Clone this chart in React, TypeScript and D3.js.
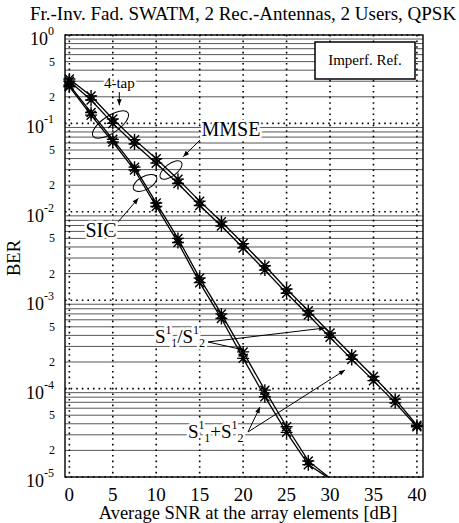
import React from "react";
import * as d3 from "d3";

// ---- data ----
const snr = [0, 2.5, 5, 7.5, 10, 12.5, 15, 17.5, 20, 22.5, 25, 27.5, 30, 32.5, 35, 37.5, 40];
const mmseSplit = [0.3, 0.184, 0.1, 0.0585, 0.0355, 0.0209, 0.0118, 0.0069, 0.0039, 0.00219, 0.0012, 0.00068, 0.00038, 0.000214, 0.000123, 0.000069, 0.000037];
const mmseSum = [0.318, 0.204, 0.112, 0.0655, 0.0398, 0.0234, 0.0132, 0.0077, 0.00437, 0.00245, 0.00134, 0.00076, 0.000425, 0.00024, 0.000137, 0.000076, 0.0000385];
const sicSplit = [0.26, 0.124, 0.0616, 0.0297, 0.0115, 0.0045, 0.00158, 0.00062, 0.00022, 0.000081, 0.000032, 0.0000138, 0.0000095];
const sicSum = [0.27, 0.133, 0.066, 0.032, 0.0126, 0.005, 0.00178, 0.0007, 0.00026, 0.000096, 0.000037, 0.0000152, 0.0000097];
const xTicks = [0, 5, 10, 15, 20, 25, 30, 35, 40];
const yExponents = [0, -1, -2, -3, -4, -5];
const yMinorLabels = [5, 2];

const title = "Fr.-Inv. Fad. SWATM, 2 Rec.-Antennas, 2 Users, QPSK";
const xLabel = "Average SNR at the array elements [dB]";
const yLabel = "BER";
const boxLabel = "Imperf. Ref.";

const FONT = '"Liberation Serif", "Times New Roman", serif';
const W = 459;
const H = 523;

const x = d3.scaleLinear().domain([-0.5, 40.7]).range([65, 423]);
const y = d3.scaleLog().domain([1e-5, 1]).range([477, 35]);
const [L, R] = x.range();
const [B, T] = y.range();

const line = d3
  .line<[number, number]>()
  .x((d) => x(d[0]))
  .y((d) => y(d[1]));

function pts(vals: number[]): [number, number][] {
  return vals.map((v, i) => [snr[i], v]);
}

const starPath = (() => {
  const s = 6,
    k = 4.5;
  return `M${-s},0L${s},0M0,${-s}L0,${s}M${-k},${-k}L${k},${k}M${-k},${k}L${k},${-k}`;
})();

function Curve({ vals }: { vals: number[] }) {
  const p = pts(vals);
  return (
    <g>
      <path d={line(p) || ""} fill="none" stroke="#000" strokeWidth={1.3} clipPath="url(#clip)" />
      {p
        .filter((d) => d[1] >= 1e-5)
        .map((d, i) => (
          <path key={i} d={starPath} transform={`translate(${x(d[0])},${y(d[1])})`} stroke="#000" strokeWidth={1.4} fill="none" />
        ))}
    </g>
  );
}

function Loop({ db, ber, rx, ry, angle }: { db: number; ber: number; rx: number; ry: number; angle: number }) {
  return (
    <ellipse cx={0} cy={0} rx={rx} ry={ry} transform={`translate(${x(db)},${y(ber)}) rotate(${angle})`} fill="none" stroke="#000" strokeWidth={1} />
  );
}

function Arrow({ a, b }: { a: [number, number]; b: [number, number] }) {
  return <line x1={x(a[0])} y1={y(a[1])} x2={x(b[0])} y2={y(b[1])} stroke="#000" strokeWidth={1} markerEnd="url(#arr)" />;
}

const halo = { stroke: "#fff", strokeWidth: 5, paintOrder: "stroke" as const, strokeLinejoin: "round" as const };

export default function App() {
  const minorTicks = y.ticks().filter((v) => {
    const m = Math.round(v / Math.pow(10, Math.floor(Math.log10(v) + 1e-9)));
    return m !== 1;
  });
  return (
    <svg width={W} height={H} style={{ position: "absolute", left: 0, top: 0, background: "#fff" }} fontFamily={FONT}>
      <defs>
        <clipPath id="clip">
          <rect x={L} y={T} width={R - L} height={B - T} />
        </clipPath>
        <marker id="arr" viewBox="0 0 10 10" refX={10} refY={5} markerWidth={7} markerHeight={6} markerUnits="userSpaceOnUse" orient="auto">
          <path d="M0,1L10,5L0,9Z" fill="#000" />
        </marker>
      </defs>
      <rect x={0} y={0} width={W} height={H} fill="#fff" />

      {/* title */}
      <text x={243} y={20} textAnchor="middle" fontSize={19}>
        {title}
      </text>

      {/* minor horizontal grid */}
      {minorTicks.map((v, i) => (
        <line key={"mh" + i} x1={L} x2={R} y1={y(v)} y2={y(v)} stroke="#444" strokeWidth={0.9} />
      ))}
      {/* major horizontal dotted grid */}
      {yExponents.map((e) => (
        <line key={"Mh" + e} x1={L} x2={R} y1={y(Math.pow(10, e))} y2={y(Math.pow(10, e))} stroke="#000" strokeWidth={1.6} strokeDasharray="1.6,4" />
      ))}
      {/* vertical dotted grid */}
      {xTicks.map((t) => (
        <line key={"v" + t} x1={x(t)} x2={x(t)} y1={T} y2={B} stroke="#000" strokeWidth={1.6} strokeDasharray="1.6,4" />
      ))}

      {/* frame */}
      <rect x={L} y={T} width={R - L} height={B - T} fill="none" stroke="#000" strokeWidth={1.4} />

      {/* curves */}
      <Curve vals={mmseSplit} />
      <Curve vals={mmseSum} />
      <Curve vals={sicSplit} />
      <Curve vals={sicSum} />

      {/* x tick labels */}
      {xTicks.map((t) => (
        <text key={"xt" + t} x={x(t)} y={501} textAnchor="middle" fontSize={19}>
          {t}
        </text>
      ))}
      <text x={(L + R) / 2 + 4} y={519} textAnchor="middle" fontSize={18.5}>
        {xLabel}
      </text>

      {/* y tick labels */}
      {yExponents.map((e) => (
        <text key={"yt" + e} x={54} y={y(Math.pow(10, e)) + 10} textAnchor="end" fontSize={18}>
          10
          <tspan dy={-10} fontSize={12}>
            {e === 0 ? "0" : "-" + Math.abs(e)}
          </tspan>
        </text>
      ))}
      {yExponents.slice(1).map((e) =>
        yMinorLabels.map((m) => (
          <text key={"ym" + e + m} x={55} y={y(m * Math.pow(10, e)) + 4} textAnchor="end" fontSize={12}>
            {m}
          </text>
        ))
      )}
      <text transform={`translate(20,${(T + B) / 2 + 2}) rotate(-90)`} textAnchor="middle" fontSize={18.5}>
        {yLabel}
      </text>

      {/* legend box */}
      <rect x={R - 108} y={T + 7} width={100} height={37} fill="#fff" stroke="#000" strokeWidth={1.5} />
      <text x={R - 58} y={T + 30} textAnchor="middle" fontSize={15}>
        {boxLabel}
      </text>

      {/* annotations */}
      <text x={x(5.75)} y={y(0.25)} textAnchor="middle" fontSize={15} {...halo}>
        4-tap
      </text>
      <Arrow a={[5.75, 0.226]} b={[5.75, 0.16]} />
      <Loop db={4.74} ber={0.097} rx={21} ry={8.5} angle={-34} />

      <text x={x(18.6)} y={y(0.072)} textAnchor="middle" fontSize={20} {...halo}>
        MMSE
      </text>
      <Arrow a={[15.04, 0.0649]} b={[13.1, 0.042]} />
      <Loop db={11.7} ber={0.0297} rx={13} ry={6} angle={-37} />

      <text x={x(3.65)} y={y(0.0052)} textAnchor="middle" fontSize={20} {...halo}>
        SIC
      </text>
      <Arrow a={[5.63, 0.00773]} b={[7.94, 0.0142]} />
      <Loop db={8.71} ber={0.0212} rx={13} ry={6.5} angle={-29} />

      <text x={x(9.86)} y={y(3.28e-4)} fontSize={19} {...halo}>
        S<tspan dy={-9} fontSize={12}>1</tspan>
        <tspan dy={13} fontSize={12}>1</tspan>
        <tspan dy={-4} fontSize={19}>/S</tspan>
        <tspan dy={-9} fontSize={12}>1</tspan>
        <tspan dy={13} fontSize={12}>2</tspan>
      </text>
      <Arrow a={[15.96, 3.37e-4]} b={[29.43, 4.85e-4]} />
      <Arrow a={[15.96, 3.37e-4]} b={[20.1, 2.73e-4]} />

      <text x={x(13.66)} y={y(2.76e-5)} fontSize={19} {...halo}>
        S<tspan dy={-9} fontSize={12}>1</tspan>
        <tspan dy={13} fontSize={12}>1</tspan>
        <tspan dy={-4} fontSize={19}>+S</tspan>
        <tspan dy={-9} fontSize={12}>1</tspan>
        <tspan dy={13} fontSize={12}>2</tspan>
      </text>
      <Arrow a={[20.56, 3.23e-5]} b={[21.94, 6.19e-5]} />
      <Arrow a={[20.56, 3.23e-5]} b={[31.72, 1.62e-4]} />
    </svg>
  );
}
